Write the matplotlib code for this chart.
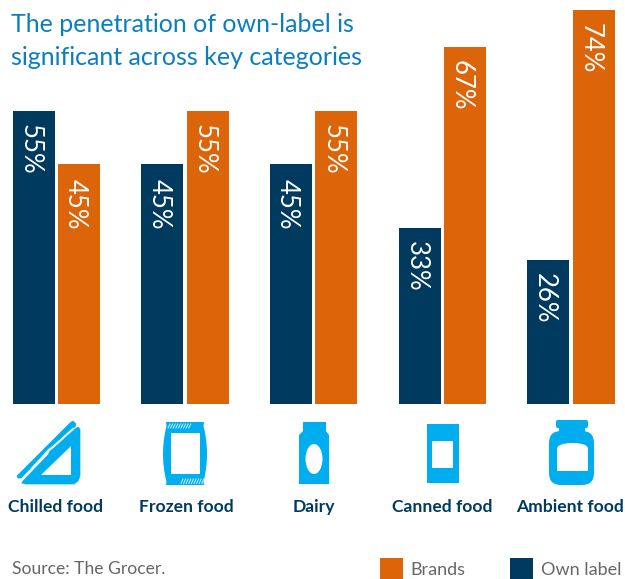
import numpy as np
import matplotlib
matplotlib.use("Agg")
import matplotlib.pyplot as plt
from matplotlib.patches import Polygon, Rectangle, Ellipse, FancyBboxPatch

categories = ["Chilled food", "Frozen food", "Dairy", "Canned food", "Ambient food"]
own_label = [55, 45, 45, 33, 27]
brands = [45, 55, 55, 67, 74]
own_text = ["55%", "45%", "45%", "33%", "26%"]
brand_text = ["45%", "55%", "55%", "67%", "74%"]
title_lines = ["The penetration of own-label is", "significant across key categories"]
source = "Source: The Grocer."

NAVY, ORANGE, SKY, BLUE, GREY = "#003a5f", "#dc6409", "#00aeef", "#0a7fc0", "#666666"
W, H = 625, 579
plt.rcParams["font.family"] = ["Lato", "DejaVu Sans"]
fig = plt.figure(figsize=(W / 100, H / 100), dpi=100, facecolor="white")

# pixel overlay for title, icons, legend
ov = fig.add_axes([0, 0, 1, 1], zorder=1)
ov.set_xlim(0, W); ov.set_ylim(H, 0); ov.axis("off")

# bars
ax = fig.add_axes([0, 1 - 404 / H, 1, 404 / H], zorder=2)
ax.patch.set_alpha(0)
spacing = 128.6
ax.set_xlim(-56.5 / spacing, (W - 56.5) / spacing)
ax.set_ylim(0, 404 / 5.33)
ax.axis("off")
x = np.arange(len(categories))
off, bw = 22.7 / spacing, 42 / spacing
ax.bar(x - off, own_label, bw, color=NAVY)
ax.bar(x + off, brands, bw, color=ORANGE)
for xs, vals, txt in ((x - off, own_label, own_text), (x + off, brands, brand_text)):
    for xi, v, t in zip(xs, vals, txt):
        ax.annotate(t, (xi, v), xytext=(-3.5 * .72, -13 * .72 - (1 if v == 45 else 0)), textcoords="offset points",
                    rotation=-90, ha="center", va="top", color="white", fontsize=18.5)

ov.text(11, 24.5, title_lines[0], color=BLUE, fontsize=18, va="center", ha="left")
ov.text(11, 57.5, title_lines[1], color=BLUE, fontsize=18, va="center", ha="left")

for xc, c in zip([55.5, 186, 314, 442.5, 570], categories):
    ov.text(xc, 507, c, ha="center", va="center", color=NAVY, fontsize=12.6, fontweight="bold")

ov.text(12, 569, source, color=GREY, fontsize=12.6, va="center", ha="left")
ov.add_patch(Rectangle((380, 558), 23, 21, color=ORANGE, lw=0))
ov.add_patch(Rectangle((510, 558), 23, 21, color=NAVY, lw=0))
ov.text(410, 570, "Brands", color=GREY, fontsize=13, va="center", ha="left")
ov.text(541, 570, "Own label", color=GREY, fontsize=13, va="center", ha="left")

def poly(pts, fc=SKY, lw=0, **k):
    ov.add_patch(Polygon(pts, closed=True, fc=fc, ec=fc, lw=lw, joinstyle="round", **k))

# sandwich
poly([(17, 476), (70, 423), (73, 421), (76, 424), (75, 427), (72, 428), (52, 446), (48, 449),
      (25, 474), (21, 478), (18, 478)], lw=0.5)
poly([(23, 481), (48, 455), (50, 451), (54, 448), (75, 429), (78, 427), (80, 429), (80, 476), (78, 481),
      (74, 484), (25, 484), (22, 483)], lw=0.5)
poly([(71, 446), (71, 475), (41, 475)], fc="white")

# frozen pack
ys = np.linspace(426, 482, 15)
sag = 1 - ((ys - 454) / 28) ** 2
poly(list(zip(166.5 - 3.5 * sag, ys))[::-1] + [(166, 422), (204, 422)] + list(zip(203.5 + 3.5 * sag, ys))
     + [(204, 485), (166, 485)])
ov.add_patch(Rectangle((171, 433), 29, 41, fc="white", lw=0))
for xs0, y0, y1 in [(np.arange(168, 189, 2.6), 424, 428), (np.arange(181, 203, 2.6), 479, 483.5)]:
    for xh in xs0:
        ov.plot([xh, xh + 2], [y1, y0], color="white", lw=0.7, alpha=.8)

# bottle
poly([(303, 422), (326, 422), (326, 431), (329, 435), (329, 484), (299, 484), (299, 435), (303, 431)])
ov.add_patch(Ellipse((314, 459), 17, 30, fc="white", lw=0))

# can
ov.add_patch(Rectangle((427, 424), 32, 59, fc=SKY, lw=0))
ov.add_patch(Rectangle((432, 441), 21, 27, fc="white", lw=0))

# jar
ov.add_patch(FancyBboxPatch((556, 420), 32, 8, boxstyle="round,pad=0,rounding_size=2", fc=SKY, lw=0))
ov.add_patch(Rectangle((559, 426), 26, 9, fc=SKY, lw=0))
ov.add_patch(FancyBboxPatch((549, 431), 45, 54, boxstyle="round,pad=0,rounding_size=12", fc=SKY, lw=0))
ax_x = np.linspace(557, 588, 25)
arc = 448 - 5 * np.clip(1 - ((ax_x - 572.5) / 15.5) ** 2, 0, 1) ** .5
poly(list(zip(ax_x, arc)) + [(588, 471), (557, 471)], fc="white")

fig.savefig("out.png", dpi=100, facecolor="white")
